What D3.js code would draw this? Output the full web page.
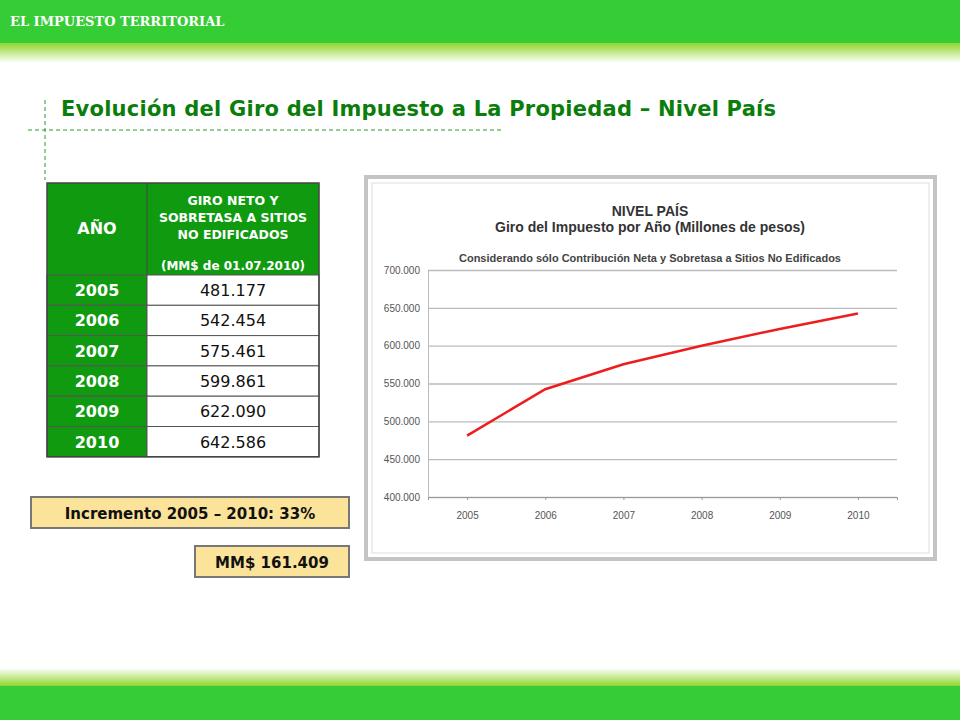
<!DOCTYPE html>
<html><head><meta charset="utf-8">
<script src="https://cdn.jsdelivr.net/npm/d3@7"></script>
<style>body{margin:0;background:#fff}</style>
</head><body>
<svg id="slide" width="960" height="720"></svg>
<script>
// chart data
const years = ["2005", "2006", "2007", "2008", "2009", "2010"];
const values = [481177, 542454, 575461, 599861, 622090, 642586];
const tableValues = ["481.177", "542.454", "575.461", "599.861", "622.090", "642.586"];
const yTicks = [400000, 450000, 500000, 550000, 600000, 650000, 700000];

const svg = d3.select("#slide");
const fmt = d => d3.format(",")(d / 1000).replace(",", ".") + ".000";

// header band + gradient fade
const defs = svg.append("defs");
const g1 = defs.append("linearGradient").attr("id", "fadeTop").attr("x1", 0).attr("x2", 0).attr("y1", 0).attr("y2", 1);
g1.append("stop").attr("offset", 0).attr("stop-color", "#8fd62c");
g1.append("stop").attr("offset", 1).attr("stop-color", "#fff");
const g2 = defs.append("linearGradient").attr("id", "fadeBot").attr("x1", 0).attr("x2", 0).attr("y1", 0).attr("y2", 1);
g2.append("stop").attr("offset", 0).attr("stop-color", "#fff");
g2.append("stop").attr("offset", 1).attr("stop-color", "#8fd62c");

svg.append("rect").attr("x", 0).attr("y", 0).attr("width", 960).attr("height", 43).attr("fill", "#35cc35");
svg.append("rect").attr("x", 0).attr("y", 43).attr("width", 960).attr("height", 20).attr("fill", "url(#fadeTop)");
svg.append("text").attr("x", 10).attr("y", 26).attr("fill", "#fff")
  .style("font-family", "DejaVu Serif").style("font-weight", "bold").style("font-size", "13px")
  .text("EL IMPUESTO TERRITORIAL");

svg.append("rect").attr("x", 0).attr("y", 668).attr("width", 960).attr("height", 18).attr("fill", "url(#fadeBot)");
svg.append("rect").attr("x", 0).attr("y", 686).attr("width", 960).attr("height", 34).attr("fill", "#35cc35");

// title + dashed guides
svg.append("line").attr("x1", 45).attr("x2", 45).attr("y1", 100).attr("y2", 180)
  .attr("stroke", "#2a9a2a").attr("stroke-dasharray", "4,3");
svg.append("line").attr("x1", 28).attr("x2", 502).attr("y1", 130).attr("y2", 130)
  .attr("stroke", "#2a9a2a").attr("stroke-dasharray", "4,3");
svg.append("text").attr("x", 61).attr("y", 116).attr("fill", "#0a7d0a")
  .style("font-family", "DejaVu Sans").style("font-weight", "bold").style("font-size", "21px")
  .attr("textLength", 715)
  .text("Evolución del Giro del Impuesto a La Propiedad – Nivel País");

// table
const tX = 47, c1 = 100, c2 = 172, headH = 92, rowH = 30.3, tY = 183;
const tbl = svg.append("g").style("font-family", "DejaVu Sans").style("font-weight", "bold");
tbl.append("rect").attr("x", tX).attr("y", tY).attr("width", c1 + c2).attr("height", headH).attr("fill", "#109a10");
tbl.append("text").attr("x", tX + c1 / 2).attr("y", tY + 51).attr("text-anchor", "middle")
  .attr("fill", "#fff").style("font-size", "16px").text("AÑO");
["GIRO NETO Y", "SOBRETASA A SITIOS", "NO EDIFICADOS"].forEach((t, i) =>
  tbl.append("text").attr("x", tX + c1 + c2 / 2).attr("y", tY + 22 + i * 17).attr("text-anchor", "middle")
    .attr("fill", "#fff").style("font-size", "12.5px").text(t));
tbl.append("text").attr("x", tX + c1 + c2 / 2).attr("y", tY + 87).attr("text-anchor", "middle")
  .attr("fill", "#fff").style("font-size", "12px").text("(MM$ de 01.07.2010)");
years.forEach((yr, i) => {
  const y = tY + headH + i * rowH;
  tbl.append("rect").attr("x", tX).attr("y", y).attr("width", c1).attr("height", rowH).attr("fill", "#109a10").attr("stroke", "#555");
  tbl.append("rect").attr("x", tX + c1).attr("y", y).attr("width", c2).attr("height", rowH).attr("fill", "#fff").attr("stroke", "#555");
  tbl.append("text").attr("x", tX + c1 / 2).attr("y", y + 21).attr("text-anchor", "middle").attr("fill", "#fff").style("font-size", "16px").text(yr);
  tbl.append("text").attr("x", tX + c1 + c2 / 2).attr("y", y + 21).attr("text-anchor", "middle").attr("fill", "#111")
    .style("font-weight", "normal").style("font-size", "16px").text(tableValues[i]);
});
tbl.append("rect").attr("x", tX).attr("y", tY).attr("width", c1 + c2).attr("height", headH + 6 * rowH)
  .attr("fill", "none").attr("stroke", "#444").attr("stroke-width", 1.5);
tbl.append("line").attr("x1", tX + c1).attr("x2", tX + c1).attr("y1", tY).attr("y2", tY + headH).attr("stroke", "#444");

// callout boxes
function box(x, y, w, h, txt) {
  svg.append("rect").attr("x", x).attr("y", y).attr("width", w).attr("height", h)
    .attr("fill", "#fbe39a").attr("stroke", "#777").attr("stroke-width", 2);
  svg.append("text").attr("x", x + w / 2).attr("y", y + h / 2 + 6).attr("text-anchor", "middle")
    .style("font-family", "DejaVu Sans").style("font-weight", "bold").style("font-size", "15px").attr("fill", "#111").text(txt);
}
box(31, 497, 318, 31, "Incremento 2005 – 2010:  33%");
box(195, 546, 154, 31, "MM$  161.409");

// chart frame
svg.append("rect").attr("x", 366).attr("y", 177).attr("width", 569).attr("height", 382)
  .attr("fill", "#fff").attr("stroke", "#c4c4c4").attr("stroke-width", 4);
svg.append("rect").attr("x", 372).attr("y", 183).attr("width", 557).attr("height", 370)
  .attr("fill", "none").attr("stroke", "#ddd").attr("stroke-width", 1);

const margin = { left: 428, right: 897, top: 270, bottom: 497 };
const x = d3.scalePoint().domain(years).range([margin.left, margin.right]).padding(0.5);
const y = d3.scaleLinear().domain([400000, 700000]).range([margin.bottom, margin.top]);

const ch = svg.append("g").style("font-family", "Liberation Sans").attr("fill", "#333");
ch.append("text").attr("x", 650).attr("y", 216).attr("text-anchor", "middle").style("font-weight", "bold").style("font-size", "14px").text("NIVEL PAÍS");
ch.append("text").attr("x", 650).attr("y", 232).attr("text-anchor", "middle").style("font-weight", "bold").style("font-size", "14px").text("Giro del Impuesto por Año  (Millones de pesos)");
ch.append("text").attr("x", 650).attr("y", 262).attr("text-anchor", "middle").style("font-weight", "bold").style("font-size", "11px").attr("fill", "#444")
  .text("Considerando sólo Contribución Neta y Sobretasa a Sitios No Edificados");

const gy = svg.append("g").attr("transform", `translate(${margin.left},0)`)
  .call(d3.axisLeft(y).tickValues(yTicks).tickFormat(fmt).tickSize(-(margin.right - margin.left)).tickPadding(8));
gy.select(".domain").attr("stroke", "#bbb");
gy.selectAll(".tick line").attr("stroke", "#bbb").attr("stroke-width", 1.3);
gy.selectAll("text").attr("fill", "#555").style("font-family", "Liberation Sans").style("font-size", "10px");
gy.selectAll("text").attr("x", -8);

const gx = svg.append("g").attr("transform", `translate(0,${margin.bottom})`)
  .call(d3.axisBottom(x).tickSize(3).tickPadding(12));
gx.select(".domain").attr("stroke", "#999");
gx.selectAll(".tick line").attr("stroke", "#999");
gx.selectAll("text").attr("fill", "#555").style("font-family", "Liberation Sans").style("font-size", "10px");

svg.append("path").datum(values)
  .attr("d", d3.line().x((d, i) => x(years[i])).y(d => y(d)))
  .attr("fill", "none").attr("stroke", "#ee1c1c").attr("stroke-width", 2.5);
</script>
</body></html>
